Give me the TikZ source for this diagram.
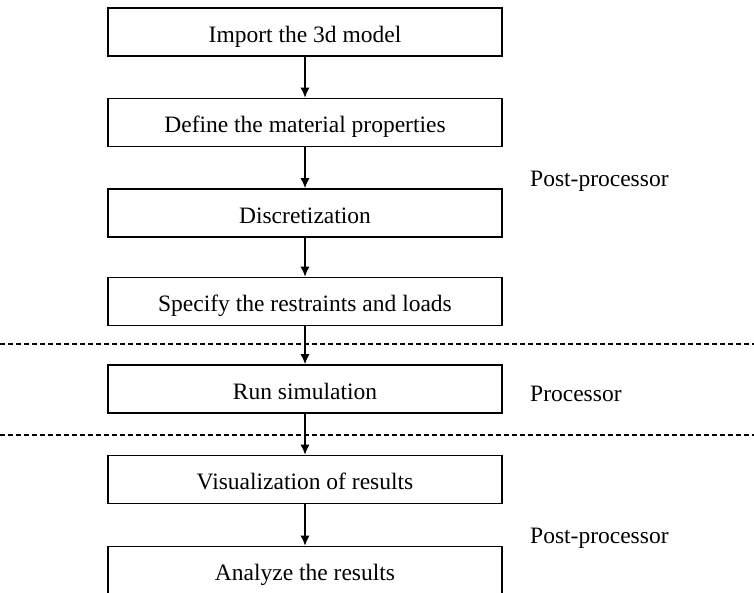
\documentclass[tikz,border=0pt]{standalone}
\usepackage{fontspec}
\setmainfont{Liberation Serif}
\usetikzlibrary{arrows.meta}

\begin{document}
\begin{tikzpicture}[x=1pt,y=-1pt,
    stepbox/.style={draw,line width=1.6pt,minimum width=394pt,minimum height=48pt,inner sep=0pt,
      text height=21pt,text depth=1pt,font=\fontsize{23.5}{28}\selectfont},
    phase/.style={anchor=west,inner sep=0pt,font=\fontsize{23.5}{28}\selectfont},
    flow/.style={line width=1.3pt,-{Latex[length=10pt,width=9pt]}},
    split/.style={line width=1.4pt,dash pattern=on 5pt off 3pt}]
        \useasboundingbox (0,0) rectangle (754,592);
        \node[stepbox] (import) at (305,32) {Import the 3d model};
        \node[stepbox] (material) at (305,122.5) {Define the material properties};
        \node[stepbox] (mesh) at (305,213) {Discretization};
        \node[stepbox] (loads) at (305,301.5) {Specify the restraints and loads};
        \node[stepbox] (run) at (305,389) {Run simulation};
        \node[stepbox] (visual) at (305,479.5) {Visualization of results};
        \node[stepbox] (analyze) at (305,570.5) {Analyze the results};
        \draw[split] (0,344) -- (754,344);
        \draw[split] (0,435) -- (754,435);
        \draw[flow] (import) -- (material);
        \draw[flow] (material) -- (mesh);
        \draw[flow] (mesh) -- (loads);
        \draw[flow] (loads) -- (run);
        \draw[flow] (run) -- (visual);
        \draw[flow] (visual) -- (analyze);
        \node[phase] (pre) at (530,181) {Post-processor};
        \node[phase] (proc) at (530,394) {Processor};
        \node[phase] (post) at (530,538) {Post-processor};
      \end{tikzpicture}
\end{document}
